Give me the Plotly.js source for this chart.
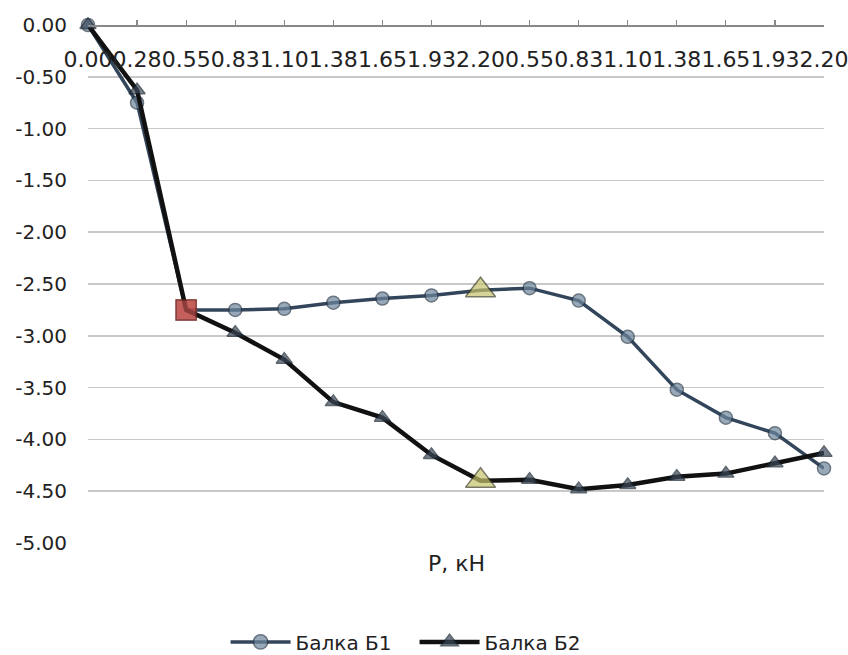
<!DOCTYPE html>
<html>
<head>
<meta charset="utf-8">
<script src="https://cdn.plot.ly/plotly-3.0.1.min.js"></script>
<style>html,body{margin:0;padding:0;background:#fff;}#chart{width:848px;height:655px;}</style>
</head>
<body>
<div id="chart"></div>
<script>
// Category tick labels (P, кН)
const tickLabels = ["0.00","0.28","0.55","0.83","1.10","1.38","1.65","1.93","2.20","0.55","0.83","1.10","1.38","1.65","1.93","2.20"];
// Y axis ticks
const yTickVals = [0,-0.5,-1,-1.5,-2,-2.5,-3,-3.5,-4,-4.5,-5];
const yTickLabels = ["0.00","-0.50","-1.00","-1.50","-2.00","-2.50","-3.00","-3.50","-4.00","-4.50","-5.00"];
// Series values
const beam1 = [0.00,-0.75,-2.75,-2.75,-2.74,-2.68,-2.64,-2.61,-2.56,-2.54,-2.66,-3.01,-3.52,-3.79,-3.94,-4.28];
const beam2 = [0.00,-0.63,-2.75,-2.97,-3.23,-3.64,-3.79,-4.15,-4.40,-4.39,-4.48,-4.44,-4.36,-4.33,-4.23,-4.13];
const seriesNames = ["Балка Б1","Балка Б2"];
// Highlighted points (category index)
const squareIdx = 2;
const triIdx = 8;

const xIdx = tickLabels.map((_, i) => i);

function markerArrays(baseSymbol, baseColor, baseSize, baseLine) {
  const sym = [], col = [], size = [], lc = [];
  xIdx.forEach(i => {
    if (i === squareIdx) { sym.push('square'); col.push('#c0504d'); size.push(20); lc.push('#7a2e2b'); }
    else if (i === triIdx) { sym.push('triangle-up'); col.push('#c6c36b'); size.push(26); lc.push('#3e3e22'); }
    else { sym.push(baseSymbol); col.push(baseColor); size.push(baseSize); lc.push(baseLine); }
  });
  return {symbol: sym, color: col, size: size, line: {color: lc, width: 1.5}};
}

const font = "DejaVu Sans, sans-serif";

const traces = [
  {
    x: xIdx, y: beam1, name: seriesNames[0], type: 'scatter', mode: 'lines+markers',
    line: {color: '#32455a', width: 3.5},
    marker: markerArrays('circle', '#6d869d', 13, '#2b3a4a'),
    cliponaxis: false
  },
  {
    x: xIdx, y: beam2, name: seriesNames[1], type: 'scatter', mode: 'lines+markers',
    line: {color: '#111111', width: 4.5},
    marker: markerArrays('triangle-up', '#3b4a5a', 14, '#1a2530'),
    cliponaxis: false
  }
];

const layout = {
  width: 848, height: 655,
  margin: {l: 88, r: 24, t: 25, b: 112},
  paper_bgcolor: '#ffffff', plot_bgcolor: '#ffffff',
  font: {family: font, size: 20, color: '#222'},
  showlegend: true,
  legend: {orientation: 'h', xref: 'container', yref: 'container',
           x: 0.266, xanchor: 'left', y: 0.02, yanchor: 'middle',
           font: {family: font, size: 20, color: '#222'}, itemwidth: 60, entrywidth: 114},
  xaxis: {
    side: 'bottom', anchor: 'free', position: 1,
    range: [0, 15], tickmode: 'array', tickvals: xIdx, ticktext: tickLabels,
    tickangle: 0, ticklabeloverflow: 'allow',
    ticks: 'inside', ticklen: 5, tickcolor: '#888', tickwidth: 1.2,
    ticklabelstandoff: 14,
    showline: true, linecolor: '#888', linewidth: 1.5,
    showgrid: false, zeroline: false, automargin: false,
    tickfont: {family: font, size: 22, color: '#222'}
  },
  yaxis: {
    range: [-5, 0], tickmode: 'array', tickvals: yTickVals, ticktext: yTickLabels,
    showgrid: true, gridcolor: '#c8c8c8', gridwidth: 1.5,
    zeroline: false, showline: false, ticks: '', ticklabelstandoff: 20, automargin: false,
    tickfont: {family: font, size: 20, color: '#222'}
  },
  annotations: [{
    text: 'P, кН', xref: 'paper', yref: 'paper', x: 0.5, y: 0, yshift: -20,
    xanchor: 'center', yanchor: 'middle', showarrow: false,
    font: {family: font, size: 22, color: '#222'}
  }]
};

Plotly.newPlot('chart', traces, layout, {displayModeBar: false, staticPlot: true});
</script>
</body>
</html>
